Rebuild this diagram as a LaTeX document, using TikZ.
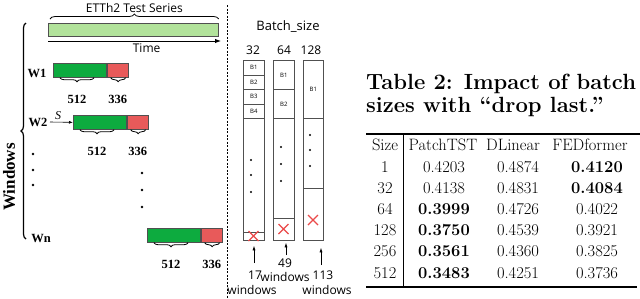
\documentclass[tikz,border=0pt]{standalone}
\usepackage{fontspec}
\newfontfamily\sansfig{Open Sans}
\newfontfamily\serfig{Liberation Serif}
\usepackage{xcolor}
\usepackage{tikz}
\usetikzlibrary{arrows.meta,positioning,calc,decorations.pathreplacing}
\definecolor{bargreen}{HTML}{0DAB3F}
\definecolor{barred}{HTML}{E85A5A}
\definecolor{serieslight}{HTML}{B2E39B}
\definecolor{xred}{HTML}{EA4A4A}
\definecolor{edgegray}{HTML}{505050}
\tikzset{
  winlab/.style={font=\serfig\fontsize{12.5}{12}\selectfont\bfseries},
  lenlab/.style={font=\serfig\fontsize{12.5}{12}\selectfont\bfseries},
  gbar/.style={draw=edgegray,fill=bargreen,line width=0.7pt,minimum width=53pt,minimum height=14pt,inner sep=0pt,anchor=north west},
  rbar/.style={draw=edgegray,fill=barred,line width=0.7pt,minimum width=21pt,minimum height=14pt,inner sep=0pt,anchor=north west},
  ubrace/.style={decorate,decoration={brace,mirror,amplitude=4pt},line width=0.8pt},
  col/.style={draw=edgegray,line width=0.8pt,inner sep=0pt,anchor=north west},
  blk/.style={col,font=\sansfig\fontsize{6}{6}\selectfont},
  xmark/.style={xred,line width=1.1pt},
  dotm/.style={fill=black,circle,inner sep=0pt,minimum size=2.6pt},
  upar/.style={-{Latex[length=4.5pt,width=3pt]},line width=0.6pt},
  cell/.style={font=\fontsize{16.5}{17}\selectfont,anchor=base},
}
\begin{document}
\begin{tikzpicture}[x=1pt,y=-1pt,font=\sansfig\fontsize{12}{12}\selectfont,>=Latex]
\useasboundingbox (0,0) rectangle (640,298);
% test series on top
\node[draw=edgegray,fill=serieslight,line width=0.7pt,minimum width=170pt,minimum height=13pt,inner sep=0pt,anchor=north west] (series) at (48,23) {};
\draw[decorate,decoration={brace,amplitude=5pt},line width=0.8pt] ($(series.north west)+(2,-4)$) -- ($(series.north east)+(0,-4)$) node[midway,above=3pt] (ettlab) {\fontsize{12}{12}\selectfont ETTh2 Test Series};
\coordinate (tstart) at (48,41);
\draw[-{Latex[length=6pt,width=4.5pt]},line width=1pt] (tstart) -- ++(173,0) node[pos=0.57,below=-1pt] (timelab) {Time};
% windows
\draw[decorate,decoration={brace,amplitude=5pt},line width=1.2pt] (26,239) -- (26,23);
\node[rotate=90,font=\serfig\fontsize{17}{17}\selectfont\bfseries] (winlab) at (9,177) {Windows};
\foreach \nm/\x/\y/\lx/\ly/\lab in {w1/53/63/37/73/W1,w2/73/115/38/122/W2,wn/147/228/41/238/Wn}{
  \node[winlab] (\nm l) at (\lx,\ly) {\lab};
  \node[gbar] (\nm g) at (\x,\y) {};
  \node[rbar] (\nm r) at (\nm g.north east) {};
  \draw[ubrace] ($(\nm g.south west)+(7,0)$) -- ($(\nm g.south west)+(41,0)$);
  \draw[ubrace] ($(\nm r.south west)+(4,0)$) -- ($(\nm r.south west)+(19,0)$);
  \node[lenlab] (\nm a) at ($(\nm g.south west)+(24,22)$) {512};
  \node[lenlab] (\nm b) at ($(\nm r.south west)+(11,22)$) {336};
}
\coordinate (sfrom) at (50,122);
\draw[-{Latex[length=4pt,width=3pt]},line width=0.6pt] (sfrom) -- (w2g.west);
\node[font=\serfig\fontsize{12}{12}\selectfont\itshape] (shift) at (58,116) {S};
\foreach \y in {154,170,185}{\node[dotm] at (33,\y) {};}
\foreach \y in {173,190,207}{\node[dotm] at (142,\y) {};}
% separator
\draw[dash pattern=on 2pt off 1.5pt,line width=1pt] (227,5) -- (227,298);
% batches
\node (bslab) at (288,27) {\fontsize{13}{13}\selectfont Batch\_size};
\foreach \nm/\x/\w/\lx/\lab in {c32/243/21/253/32,c64/273/21/284/64,c128/303/20/311/128}{
  \node[col,minimum width=\w pt,minimum height=180pt] (\nm) at (\x,60) {};
  \node (\nm l) at (\lx,50) {\lab};
}
\foreach \i in {1,...,4}{\node[blk,minimum width=21pt,minimum height=14.5pt] (c32b\i) at (243,{60+14.5*(\i-1)}) {B\i};}
\node[blk,minimum width=21pt,minimum height=8pt] (c32e) at (243,232) {};
\foreach \i in {1,2}{\node[blk,minimum width=21pt,minimum height=29pt] (c64b\i) at (273,{60+29*(\i-1)}) {B\i};}
\node[blk,minimum width=21pt,minimum height=22pt] (c64e) at (273,218) {};
\node[blk,minimum width=20pt,minimum height=58pt] (c128b1) at (303,60) {B1};
\node[blk,minimum width=20pt,minimum height=52pt] (c128e) at (303,188) {};
\foreach \x/\ya/\yb/\yc in {251/160/175/192,281/147/164/181,310/135/150/166}{
  \foreach \y in {\ya,\yb,\yc}{\node[dotm,minimum size=2.2pt] at (\x,\y) {};}
}
\foreach \x/\y in {253.5/236,283.5/229,313/220}{
  \draw[xmark] (\x,\y) +(-5,-5) -- +(5,5) +(-5,5) -- +(5,-5);
}
\foreach \nm/\x/\y/\s in {c32/254/263/5,c64/286/255/2,c128/321/265/7}{
  \coordinate (\nm p) at (\x,\y);
  \draw[upar,shorten >=\s pt] (\nm p) -- (\nm p |- \nm.south);
}
\node (n32) at (255,275) {17};
\node (w32) at (252,290) {windows};
\node (n64) at (285,263) {49};
\node (w64) at (285,277) {windows};
\node (n128) at (323,275) {113};
\node (w128) at (327,290) {windows};
% table
\node[anchor=base west,inner sep=0pt,font=\fontsize{22}{22}\selectfont\bfseries] (cap1) at (366,89) {Table 2: Impact of batch};
\node[anchor=base west,inner sep=0pt,font=\fontsize{22}{22}\selectfont\bfseries] (cap2) at (366,112) {sizes with “drop last.”};
\draw[line width=1.2pt] (366,134) -- (640,134);
\draw[line width=1.2pt] (366,287) -- (637,287);
\draw[line width=0.8pt] (403,134) -- (403,287);
\node[cell] (hsize) at (385,150) {Size};
\node[cell] (hpat) at (443,150) {PatchTST};
\node[cell] (hdlin) at (513,150) {DLinear};
\node[cell] (hfed) at (590,150) {FEDformer};
\foreach \s/\a/\b/\c [count=\i] in {1/0.4203/0.4874/\textbf{0.4120},32/0.4138/0.4831/\textbf{0.4084},64/\textbf{0.3999}/0.4726/0.4022,128/\textbf{0.3750}/0.4539/0.3921,256/\textbf{0.3561}/0.4360/0.3825,512/\textbf{0.3483}/0.4251/0.3736}{
  \node[cell] (r\i s) at (385,{172+21.2*(\i-1)}) {\s};
  \node[cell] (r\i a) at (444,{172+21.2*(\i-1)}) {\a};
  \node[cell] (r\i b) at (518,{172+21.2*(\i-1)}) {\b};
  \node[cell] (r\i c) at (597,{172+21.2*(\i-1)}) {\c};
}
\end{tikzpicture}
\end{document}
